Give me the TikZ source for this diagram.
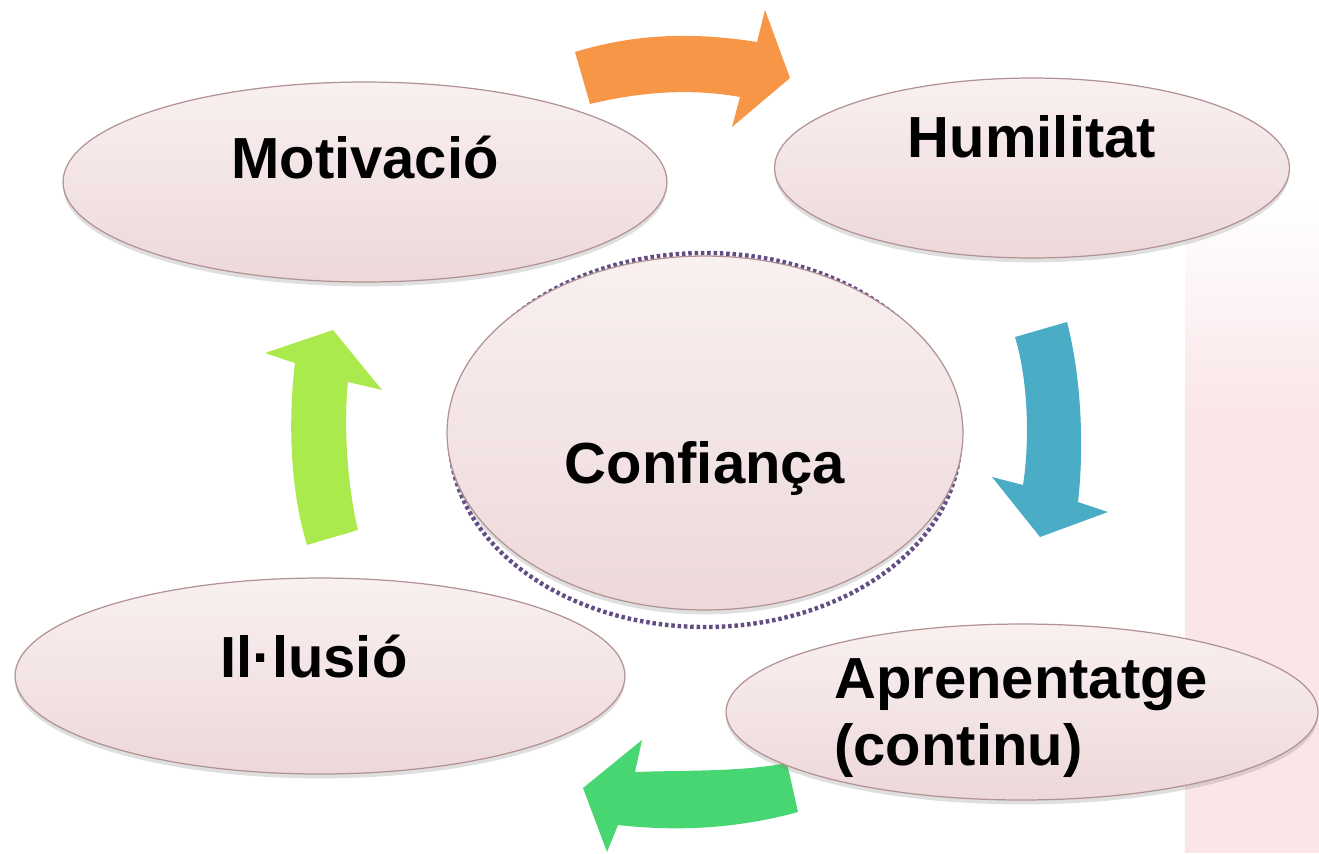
\documentclass[tikz,border=0pt]{standalone}
\usepackage{fontspec}
\setmainfont{Liberation Sans}
\usetikzlibrary{shapes.geometric}
\usetikzlibrary{shadows}

\definecolor{bubbletop}{RGB}{249,240,240}
\definecolor{bubblebot}{RGB}{237,216,218}
\definecolor{bubbleline}{RGB}{178,146,148}
\definecolor{ringcol}{RGB}{98,78,132}
\definecolor{orangearr}{RGB}{247,150,70}
\definecolor{bluearr}{RGB}{75,172,198}
\definecolor{greenarr}{RGB}{72,214,114}
\definecolor{limearr}{RGB}{170,234,76}
\definecolor{stripcol}{RGB}{250,229,232}

\tikzset{
  bubble/.style={ellipse,draw=bubbleline,line width=0.7pt,top color=bubbletop,bottom color=bubblebot,
    inner sep=0pt,drop shadow={opacity=0.25,shadow xshift=0pt,shadow yshift=-2.5pt}},
  word/.style={font=\fontsize{33}{38}\selectfont\bfseries,inner sep=0pt}
}

\begin{document}
\begin{tikzpicture}[x=0.02cm,y=-0.02cm]
    \useasboundingbox (0,0) rectangle (1319,853);
    \shade[top color=white,bottom color=stripcol] (1185,200) rectangle (1319,420);
    \fill[stripcol] (1185,419) rectangle (1319,853);
    % ring behind the centre
    \draw[ringcol,line width=2.5pt,dash pattern=on 2pt off 1.6pt] (705,440) ellipse [x radius=255,y radius=187];
    % block arrows
    \fill[orangearr] (575,52) .. controls (640,32) and (700,33) .. (757,42) -- (765,10) -- (790,78) -- (732,127)
        -- (740,97) .. controls (690,88) and (640,92) .. (590,104) -- cycle;
    \fill[bluearr] (1015,337) -- (1067,322) .. controls (1082,380) and (1084,450) .. (1078,502) -- (1108,512)
        -- (1040,537) -- (992,477) -- (1023,485) .. controls (1030,440) and (1028,380) .. cycle;
    \fill[greenarr] (787,763) -- (798,812) .. controls (740,828) and (680,832) .. (618,825) -- (607,852)
        -- (583,788) -- (642,740) -- (635,772) .. controls (690,770) and (740,772) .. cycle;
    \fill[limearr] (307,545) -- (358,530) .. controls (346,480) and (344,420) .. (348,382) -- (382,390)
        -- (333,330) -- (265,353) -- (295,363) .. controls (288,420) and (290,490) .. cycle;
    % bubbles
    \node[bubble,minimum width=12.08cm,minimum height=4.0cm] (mot) at (365,182) {};
    \node[bubble,minimum width=10.3cm,minimum height=3.6cm] (hum) at (1032,168) {};
    \node[bubble,minimum width=12.2cm,minimum height=3.92cm] (ill) at (320,676) {};
    \node[bubble,minimum width=11.84cm,minimum height=3.52cm] (apr) at (1022,712) {};
    \node[bubble,minimum width=10.32cm,minimum height=7.08cm] (conf) at (705,433) {};
    % words
    \node[word,anchor=base] (motT) at (365,178) {Motivació};
    \node[word,anchor=base] (humT) at (1032,157) {Humilitat};
    \node[word,anchor=base] (illT) at (314,677) {Il·lusió};
    \node[word,anchor=base] (confT) at (705,483) {Confiança};
    \node[word,anchor=west,align=left] (aprT) at (834,718) {Aprenentatge\\(continu)};
\end{tikzpicture}
\end{document}
